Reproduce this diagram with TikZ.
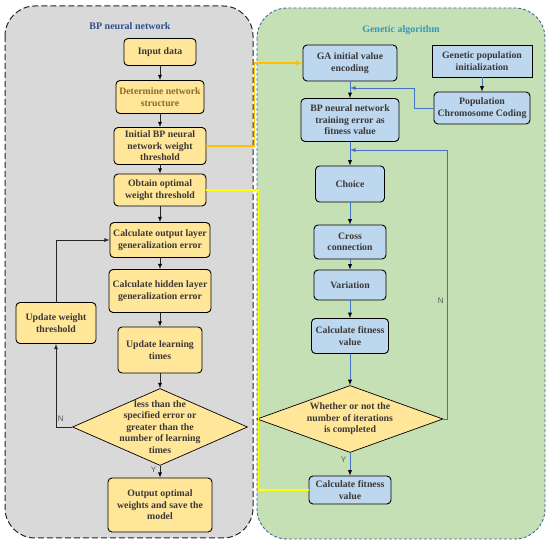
\documentclass[tikz,border=0pt]{standalone}
\usepackage{fontspec}
\setmainfont{Liberation Serif}
\setsansfont{Liberation Sans}
\usetikzlibrary{shapes.geometric}

\definecolor{bpfill}{HTML}{FFE699}
\definecolor{gafill}{HTML}{BDD7EE}
\definecolor{bpback}{HTML}{D9D9D9}
\definecolor{gaback}{HTML}{C5E0B4}
\definecolor{gaborder}{HTML}{44679E}
\definecolor{galine}{HTML}{4472C4}
\definecolor{boxtext}{HTML}{3B3838}
\definecolor{browntext}{HTML}{8A6A2E}
\definecolor{bptitle}{HTML}{2F4E8E}
\definecolor{gatitle}{HTML}{3795C4}
\definecolor{linkorange}{HTML}{FFC000}
\definecolor{linkyellow}{HTML}{FFFF00}

\begin{document}
\begin{tikzpicture}[x=1pt,y=-1pt,>=latex,
		bp node/.style={rectangle,rounded corners=4pt,draw,line width=0.9pt,fill=bpfill,align=center,
			text=boxtext,inner sep=2pt,font=\bfseries\fontsize{9.8}{11.6}\selectfont},
		ga node/.style={bp node,fill=gafill},
		check node/.style={diamond,draw,line width=0.7pt,fill=bpfill,inner sep=0pt},
		check text/.style={align=center,text=boxtext,font=\bfseries\fontsize{9.8}{11.6}\selectfont},
		bp flow/.style={->,line width=0.8pt,draw=black!85},
		ga flow/.style={->,line width=0.9pt,draw=galine},
		yn/.style={font=\sffamily\fontsize{8}{9}\selectfont,text=black!65}]

		\useasboundingbox (0,0) rectangle (550,545);

		% the two frames
		\draw[fill=bpback,draw=black!85,line width=1pt,dash pattern=on 6pt off 3pt,rounded corners=30pt]
			(5,6) rectangle (253,538);
		\draw[fill=gaback,draw=gaborder,line width=0.9pt,dash pattern=on 3pt off 2pt,rounded corners=30pt]
			(257,8) rectangle (545,539);
		\node[font=\bfseries\fontsize{10}{12}\selectfont,text=bptitle] (bptitle) at (130,26) {BP neural network};
		\node[font=\bfseries\fontsize{10}{12}\selectfont,text=gatitle] (gatitle) at (401,30) {Genetic algorithm};

		% BP neural network
		\node[bp node, minimum width=72pt, minimum height=27pt] (input) at (160,52) {Input data};
		\node[bp node, text=browntext, minimum width=88pt, minimum height=33pt] (structure) [node distance=45pt, below of=input] {Determine network\\structure};
		\node[bp node, minimum width=92pt, minimum height=37pt] (initial) [node distance=49pt, below of=structure] {Initial BP neural\\network weight\\threshold};
		\node[bp node, minimum width=92pt, minimum height=32pt] (optimal) [node distance=44pt, below of=initial] {Obtain optimal\\weight threshold};
		\node[bp node, minimum width=100pt, minimum height=35pt] (outerr) [node distance=50pt, below of=optimal] {Calculate output layer\\generalization error};
		\node[bp node, minimum width=102pt, minimum height=43pt] (hiderr) [node distance=51pt, below of=outerr] {Calculate hidden layer\\generalization error};
		\node[bp node, minimum width=84pt, minimum height=46pt] (learn) [node distance=59pt, below of=hiderr] {Update learning\\times};
		\node[check node, minimum width=175pt, minimum height=77pt,
			label={[check text]center:{less than the\\specified error or\\greater than the\\number of learning\\times}}] (stop) [node distance=77pt, below of=learn] {};
		\node[bp node, minimum width=104pt, minimum height=54pt] (output) [node distance=78pt, below of=stop] {Output optimal\\weights and save the\\model};
		\node[bp node, minimum width=80pt, minimum height=41pt] (update) at (56,323) {Update weight\\threshold};

		% Genetic algorithm
		\node[ga node, minimum width=94pt, minimum height=36pt] (encode) at (350,63) {GA initial value\\encoding};
		\node[ga node, rounded corners=0pt, minimum width=100pt, minimum height=32pt] (popinit) at (482,61) {Genetic population\\initialization};
		\node[ga node, minimum width=96pt, minimum height=32pt] (coding) [node distance=47pt, below of=popinit] {Population\\Chromosome Coding};
		\node[ga node, minimum width=98pt, minimum height=43pt] (fitness) [node distance=57pt, below of=encode] {BP neural network\\training error as\\fitness value};
		\node[ga node, minimum width=69pt, minimum height=36pt] (choice) [node distance=64pt, below of=fitness] {Choice};
		\node[ga node, minimum width=72pt, minimum height=34pt] (cross) [node distance=58pt, below of=choice] {Cross\\connection};
		\node[ga node, minimum width=72pt, minimum height=30pt] (variation) [node distance=43pt, below of=cross] {Variation};
		\node[ga node, minimum width=77pt, minimum height=35pt] (calc) [node distance=51pt, below of=variation] {Calculate fitness\\value};
		\node[check node, minimum width=186pt, minimum height=67pt,
			label={[check text]center:{Whether or not the\\number of iterations\\is completed}}] (iter) [node distance=83pt, below of=calc] {};
		\node[ga node, minimum width=82pt, minimum height=28pt] (result) [node distance=71pt, below of=iter] {Calculate fitness\\value};

		\coordinate (join1) at (350,88);
		\coordinate (join2) at (350,150);

		\path[bp flow]
		(input) edge (structure)
		(structure) edge (initial)
		(initial) edge (optimal)
		(optimal) edge (outerr)
		(outerr) edge (hiderr)
		(hiderr) edge (learn)
		(learn) edge (stop)
		(stop) edge node[yn,left,pos=0.3] {Y} (output);
		\draw[bp flow] (stop.west) -| node[yn,above=2pt,pos=0.35] {N} (update.south);
		\draw[bp flow] (update.north) |- (outerr.west);

		\path[ga flow]
		(encode) edge (fitness)
		(popinit) edge (coding)
		(fitness) edge (choice)
		(choice) edge (cross)
		(cross) edge (variation)
		(variation) edge (calc)
		(calc) edge (iter)
		(iter) edge node[yn,left,pos=0.3] {Y} (result);
		\draw[ga flow] (coding.west) -- ++(-19,0) |- (join1);
		\draw[ga flow] (iter.east) -- ++(4,0) |- node[yn,left,pos=0.22] {N} (join2);

		% links between the two parts
		\draw[->,draw=linkorange,line width=1.3pt] (initial.east) -- ++(48,0) |- (encode.west);
		\draw[draw=linkyellow,line width=1.3pt] (optimal.east) -- ++(52,0) |- (result.west);
		\end{tikzpicture}
\end{document}
